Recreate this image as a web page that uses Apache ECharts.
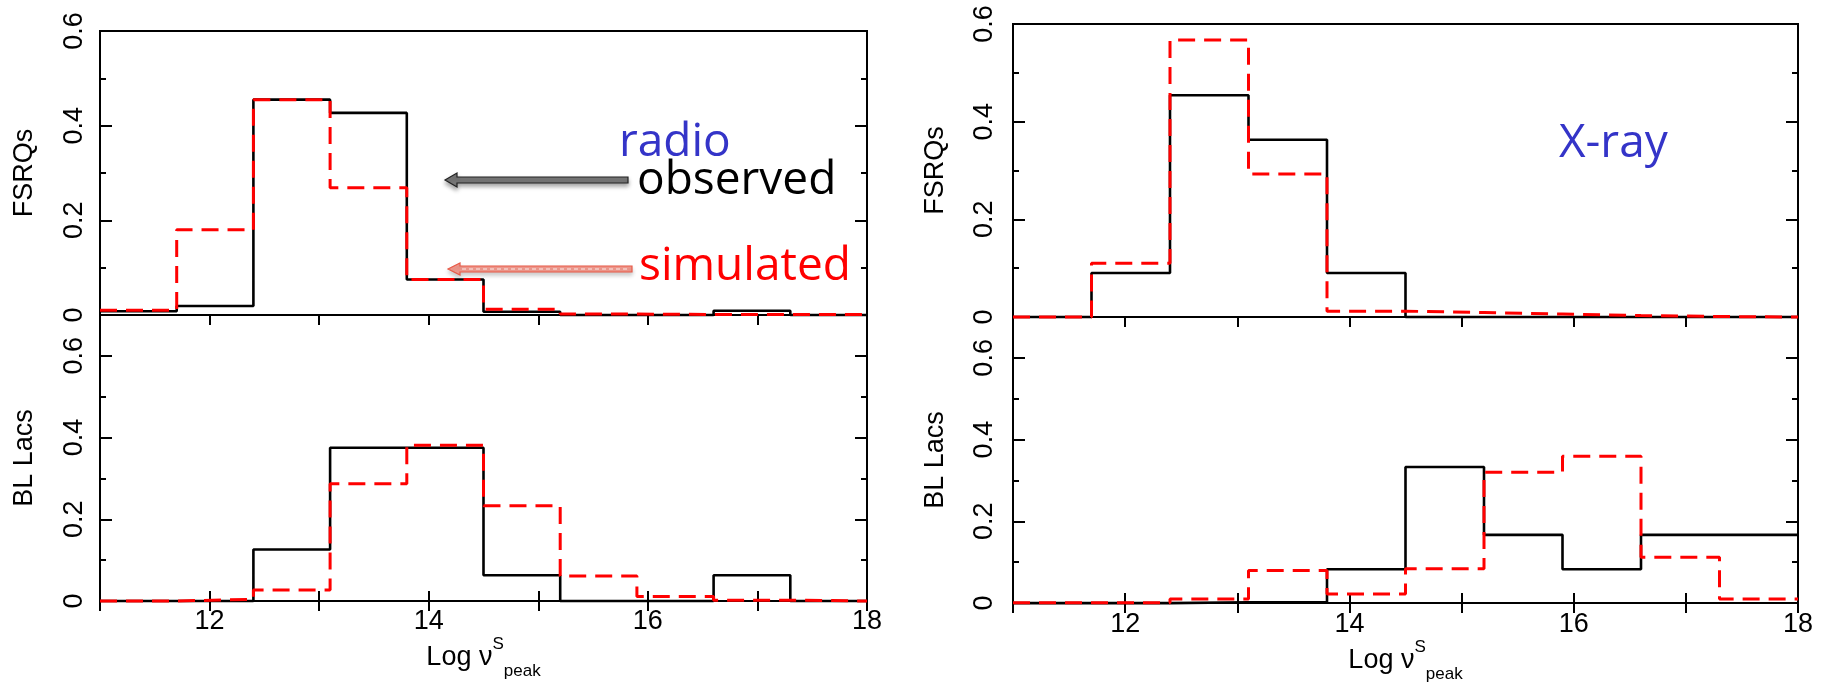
<!DOCTYPE html>
<html><head><meta charset="utf-8">
<script src="https://cdn.jsdelivr.net/npm/echarts@6/dist/echarts.min.js"></script>
<style>html,body{margin:0;padding:0;background:#fff;}#c{width:1823px;height:684px;}</style>
</head><body><div id="c"></div>
<script>
// ---- data ----
const binEdges = [11, 11.7, 12.4, 13.1, 13.8, 14.5, 15.2, 15.9, 16.6, 17.3, 18];
const radioFsrqObserved  = [0.008, 0.019, 0.455, 0.427, 0.075, 0.007, 0, 0, 0.009, 0];
const radioFsrqSimulated = [0.010, 0.180, 0.455, 0.269, 0.075, 0.012, 0.002, 0.001, 0.001, 0.001];
const radioBllObserved   = [0, 0, 0.126, 0.375, 0.375, 0.063, 0, 0, 0.063, 0];
const radioBllSimulated  = [0, 0.004, 0.027, 0.287, 0.381, 0.233, 0.061, 0.011, 0.002, 0];
const xrayFsrqObserved   = [0, 0.090, 0.454, 0.363, 0.090, 0, 0, 0, 0, 0];
const xrayFsrqSimulated  = [0, 0.110, 0.567, 0.293, 0.012, 0.009, 0.006, 0.003, 0.001, 0];
const xrayBllObserved    = [0, 0, 0.002, 0.002, 0.083, 0.333, 0.167, 0.083, 0.167, 0.167];
const xrayBllSimulated   = [0.001, 0.001, 0.010, 0.080, 0.022, 0.084, 0.320, 0.359, 0.112, 0.010];
const xTickLabels = [12, 14, 16, 18];
const yLabelValues = [0, 0.2, 0.4, 0.6];
const yMinorValues = [0.1, 0.3, 0.5];
const panelNames = ['FSRQs', 'BL Lacs', 'FSRQs', 'BL Lacs'];
const panelYMax = [0.6, 0.7, 0.6, 0.7];
const xAxisTitle = '{m|Log ν}{sup|S}{sub|peak}';
const bandLabels = ['radio', 'X-ray'];
const legendLabels = ['observed', 'simulated'];

// ---- layout ----
const FONT = '"Liberation Sans", Arial, sans-serif';
const ANNO_FONT = '"Open Sans", sans-serif';
const panels = [
  {grid:{left:100, top:31, width:767, height:284}, obs:radioFsrqObserved, sim:radioFsrqSimulated, bottom:false, yMargin:12, yNameGap:62},
  {grid:{left:100, top:315, width:767, height:286}, obs:radioBllObserved, sim:radioBllSimulated, bottom:true, yMargin:12, yNameGap:62, xMargin:7, xNameGap:30},
  {grid:{left:1013, top:24, width:785, height:293}, obs:xrayFsrqObserved, sim:xrayFsrqSimulated, bottom:false, yMargin:15, yNameGap:64},
  {grid:{left:1013, top:317, width:785, height:292}, obs:xrayBllObserved, sim:xrayBllSimulated, bottom:true, yMargin:15, yNameGap:64, xMargin:8, xNameGap:32}
];

function stepData(values) {
  const d = values.map((v, k) => [binEdges[k], v]);
  d.push([binEdges[binEdges.length - 1], values[values.length - 1]]);
  return d;
}
const tickStyle = {color:'#000', width:2};
const grids = [], xAxes = [], yAxes = [], series = [];
panels.forEach((p, i) => {
  grids.push(Object.assign({show:true, borderColor:'#000', borderWidth:2, backgroundColor:'transparent'}, p.grid));
  const xBase = {type:'value', gridIndex:i, min:11, max:18, interval:1, splitLine:{show:false}, axisLine:{show:false}};
  xAxes.push(Object.assign({}, xBase, {
    position:'bottom',
    axisTick:{show:p.bottom, inside:true, length:10, lineStyle:tickStyle},
    axisLabel:{show:p.bottom, customValues:xTickLabels, margin:p.xMargin || 8, fontSize:27, color:'#000', fontFamily:FONT},
    name: p.bottom ? xAxisTitle : '',
    nameLocation:'middle', nameGap:p.xNameGap || 30,
    nameTextStyle:{color:'#000', fontFamily:FONT, rich:{
      m:{fontSize:27, fontFamily:FONT, color:'#000', lineHeight:44},
      sup:{fontSize:17, fontFamily:FONT, color:'#000', lineHeight:30, verticalAlign:'top'},
      sub:{fontSize:17, fontFamily:FONT, color:'#000', lineHeight:17, verticalAlign:'bottom'}
    }}
  }));
  xAxes.push(Object.assign({}, xBase, {
    position:'top',
    axisTick:{show:true, inside:true, length:10, lineStyle:tickStyle},
    axisLabel:{show:false}
  }));
  const yBase = {type:'value', gridIndex:i, min:0, max:panelYMax[i], splitLine:{show:false}, axisLine:{show:false}};
  yAxes.push(Object.assign({}, yBase, {
    position:'left',
    axisTick:{show:true, inside:true, length:12, customValues:yLabelValues, lineStyle:tickStyle},
    axisLabel:{show:true, customValues:yLabelValues, rotate:90, margin:p.yMargin, fontSize:27, color:'#000', fontFamily:FONT,
      formatter:v => v === 0 ? '0' : v.toFixed(1)},
    name:panelNames[i], nameLocation:'middle', nameRotate:90, nameGap:p.yNameGap,
    nameTextStyle:{fontSize:27, color:'#000', fontFamily:FONT}
  }));
  yAxes.push(Object.assign({}, yBase, {position:'left', axisTick:{show:true, inside:true, length:6, customValues:yMinorValues, lineStyle:tickStyle}, axisLabel:{show:false}}));
  yAxes.push(Object.assign({}, yBase, {position:'right', axisTick:{show:true, inside:true, length:12, customValues:yLabelValues, lineStyle:tickStyle}, axisLabel:{show:false}}));
  yAxes.push(Object.assign({}, yBase, {position:'right', axisTick:{show:true, inside:true, length:6, customValues:yMinorValues, lineStyle:tickStyle}, axisLabel:{show:false}}));
  series.push({type:'line', name:legendLabels[0], xAxisIndex:2*i, yAxisIndex:4*i, data:stepData(p.obs), step:'end',
    symbol:'none', clip:false, z:3, lineStyle:{color:'#000', width:2.6}});
  series.push({type:'line', name:legendLabels[1], xAxisIndex:2*i, yAxisIndex:4*i, data:stepData(p.sim), step:'end',
    symbol:'none', clip:false, z:4, lineStyle:{color:'#ff0000', width:3, type:[17, 9]}});
});

const graphic = [
  {type:'text', x:619, y:143, style:{text:bandLabels[0], fill:'#3434c8', font:'46px ' + ANNO_FONT, verticalAlign:'middle'}, z:10},
  {type:'text', x:1559, y:144, style:{text:bandLabels[1], fill:'#3434c8', font:'46px ' + ANNO_FONT, verticalAlign:'middle'}, z:10},
  {type:'text', x:637, y:181, style:{text:legendLabels[0], fill:'#000', font:'46px ' + ANNO_FONT, verticalAlign:'middle'}, z:10},
  {type:'text', x:639, y:267, style:{text:legendLabels[1], fill:'#ff0000', font:'46px ' + ANNO_FONT, verticalAlign:'middle'}, z:10},
  {type:'polygon', shape:{points:[[445,180],[457,173],[457,177],[628,177],[628,183],[457,183],[457,187]]},
    style:{fill:'#7a7a7a', stroke:'#222', lineWidth:1.2, shadowBlur:4, shadowOffsetY:3, shadowColor:'rgba(0,0,0,0.35)'}, z:10},
  {type:'polygon', shape:{points:[[448,269],[460,263],[460,266],[632,266],[632,272],[460,272],[460,275]]},
    style:{fill:'#f39a8e', stroke:'#e85a48', lineWidth:1.2, shadowBlur:4, shadowOffsetY:3, shadowColor:'rgba(0,0,0,0.2)'}, z:10},
  {type:'line', shape:{x1:462, y1:269, x2:630, y2:269}, style:{stroke:'rgba(255,255,255,0.55)', lineWidth:1.5, lineDash:[4,3]}, z:11}
];

const chart = echarts.init(document.getElementById('c'), null, {renderer:'canvas'});
chart.setOption({animation:false, backgroundColor:'#fff', grid:grids, xAxis:xAxes, yAxis:yAxes, series:series, graphic:graphic});
</script></body></html>
